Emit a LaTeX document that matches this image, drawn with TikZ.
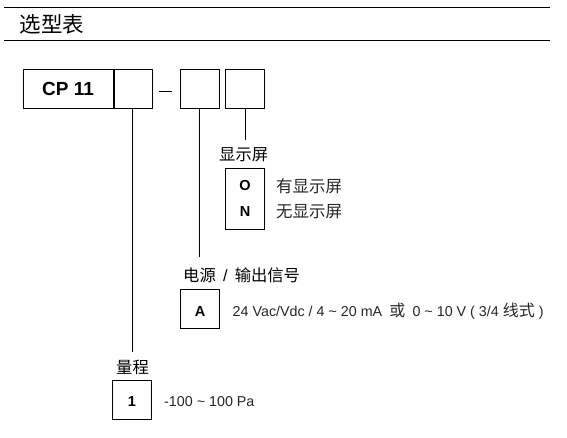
\documentclass[tikz,border=0pt]{standalone}
\usepackage{fontspec}
\setmainfont{Liberation Sans}
\newfontfamily\cjk{Noto Sans CJK SC}
\begin{document}
\begin{tikzpicture}[x=1pt,y=-1pt,
  box/.style={draw=black,line width=1pt,inner sep=0pt,minimum width=39pt,minimum height=39pt},
  code/.style={font=\fontsize{14.5}{16}\selectfont\bfseries},
  head/.style={font=\fontsize{16.3}{18}\selectfont\cjk,anchor=west,inner sep=0pt},
  desc/.style={font=\fontsize{14.3}{16}\selectfont,text=black!85,anchor=west,inner sep=0pt},
  lead/.style={line width=1pt}]
\useasboundingbox (0,0) rectangle (567,437);
% title rules
\coordinate (r1a) at (4,7.3);
\coordinate (r1b) at (550,7.3);
\coordinate (r2a) at (4,40.3);
\coordinate (r2b) at (550,40.3);
\draw[line width=1.3pt] (r1a) -- (r1b);
\draw[line width=1.3pt] (r2a) -- (r2b);
\node[font=\fontsize{21.5}{23}\selectfont\cjk,anchor=west,inner sep=0pt] (title) at (19.5,24.2) {选型表};
% code boxes
\node[box,minimum width=90pt,font=\fontsize{19}{21}\selectfont\bfseries] (cp) at (68,88.5) {CP 11};
\node[box] (b2) at (132.5,88.5) {};
\draw[line width=2pt] (cp.north east) -- (cp.south east);
\coordinate (d1) at (159,91.5);
\coordinate (d2) at (172,91.5);
\draw[line width=1pt] (d1) -- (d2);
\node[box] (b3) at (199.5,88.5) {};
\node[box] (b4) at (245,88.5) {};
% leaders
\coordinate (e4) at (245,139.5);
\coordinate (e3) at (199.5,257);
\coordinate (e2) at (132.5,352);
\draw[lead] (b4.south) -- (e4);
\draw[lead] (b3.south) -- (e3);
\draw[lead] (b2.south) -- (e2);
% display option
\node[head] (hdisp) at (219,155) {显示屏};
\node[box,minimum height=61pt] (bon) at (245,198.5) {};
\node[code] (o) at (245,186) {O};
\node[code] (n) at (245,212) {N};
\node[desc,font=\fontsize{16.5}{18}\selectfont\cjk] (t1) at (276,186) {有显示屏};
\node[desc,font=\fontsize{16.5}{18}\selectfont\cjk] (t2) at (276,212) {无显示屏};
% power / output
\node[head] (hpow) at (183,275) {电源\,{\fontspec{Liberation Sans}\ /\ }\,输出信号};
\node[box] (ba) at (200,308.5) {};
\node[code] (a) at (200,311.5) {A};
\node[desc] (ta) at (232.5,311.5) {24 Vac/Vdc / 4 \textasciitilde{} 20 mA\enspace{\cjk\fontsize{16}{18}\selectfont 或}\enspace 0 \textasciitilde{} 10 V ( 3/4 {\cjk\fontsize{16}{18}\selectfont 线式} )};
% range
\node[head] (hrange) at (116,367) {量程};
\node[box] (b1) at (132,400) {};
\node[code] (one) at (132,401.5) {1};
\node[desc] (t1r) at (164,401.5) {-100 \textasciitilde{} 100 Pa};
\end{tikzpicture}
\end{document}
